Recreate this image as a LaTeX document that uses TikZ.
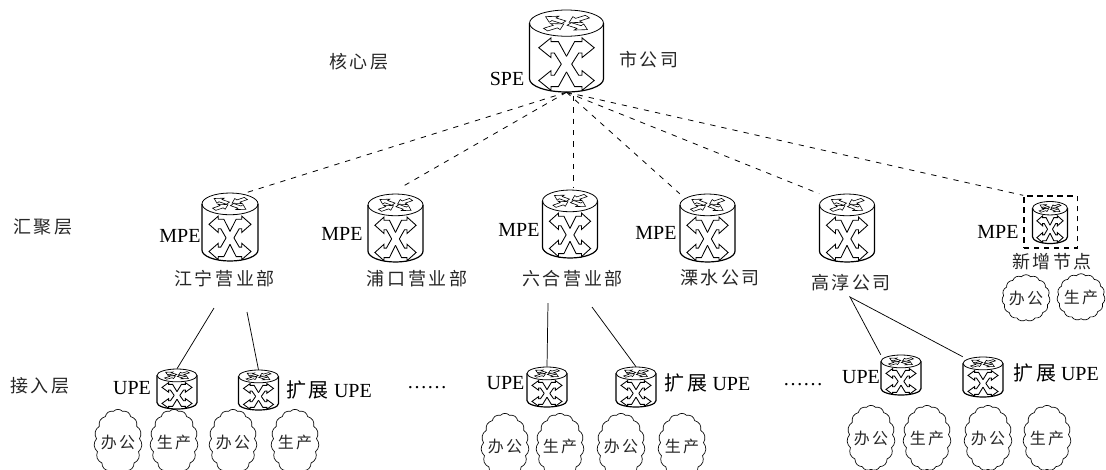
\documentclass[tikz,border=0pt]{standalone}
\usepackage{fontspec}
\setmainfont{Liberation Serif}
\newfontfamily\cjk[LetterSpace=14]{Noto Sans CJK SC}
\usetikzlibrary{shapes.symbols}
\tikzset{
  lbl/.style={inner sep=0pt, font=\fontsize{15pt}{16pt}\selectfont},
  zh/.style={inner sep=0pt, text=black!85, font=\fontsize{13.5pt}{15pt}\selectfont\cjk},
  yun/.style={draw, cloud, cloud puffs=15, cloud puff arc=95, aspect=0.75, inner sep=-5pt,
    minimum width=36pt, minimum height=49pt, line width=.5pt, text=black!85,
    font=\fontsize{12pt}{14pt}\selectfont\cjk},
  link/.style={line width=.55pt},
  dlink/.style={line width=.6pt, dash pattern=on 4pt off 4.5pt}
}
% one quarter of the big cross
\def\xarm#1#2{
\begin{scope}[xscale=#1, yscale=#2]
    \draw[line width=.65pt, line join=miter] (0,.19) -- (.22,.55) -- (.42,.55) -- (.42,.64) -- (.75,.4)
      -- (.42,.16) -- (.42,.27) -- (.33,.27) -- (.14,0);
\end{scope}
}
% small arrows on the lid
\def\lidout#1{
\begin{scope}[rotate=#1]
    \draw[line width=.45pt, fill=white] (.12,-.13) -- (.55,-.13) -- (.55,-.3) -- (.92,0) -- (.55,.3) -- (.55,.13) -- (.12,.13) -- cycle;
\end{scope}
}
\def\lidin#1{
\begin{scope}[rotate=#1, shift={(1.04,0)}, xscale=-1]
    \draw[line width=.45pt, fill=white] (.12,-.13) -- (.55,-.13) -- (.55,-.3) -- (.92,0) -- (.55,.3) -- (.55,.13) -- (.12,.13) -- cycle;
\end{scope}
}
% name, x, y, half width, half height
\def\router#1#2#3#4#5{
\node[minimum width=#4*1.5pt, minimum height=#5*1.5pt, inner sep=0pt] (#1) at (#2,#3) {};
\begin{scope}[shift={(#2,#3)}, xscale=#4, yscale=-#5]
    \draw[line width=.9pt] (-1,.68) -- (-1,-.68) arc[start angle=180, end angle=360, x radius=1, y radius=.32] -- (1,.68);
    \draw[line width=.6pt] (0,.68) ellipse[x radius=1, y radius=.32];
    \begin{scope}[shift={(0,.68)}, xscale=.75, yscale=.3]
        \lidout{35};
        \lidin{145};
        \lidout{215};
        \lidin{325};
    \end{scope}
    \begin{scope}[shift={(0,-.32)}]
        \xarm{1}{1};
        \xarm{-1}{1};
        \xarm{1}{-1};
        \xarm{-1}{-1};
    \end{scope}
\end{scope}
}
\begin{document}
\begin{tikzpicture}[x=.75pt, y=-.75pt]
    \useasboundingbox (0,0) rectangle (1106,469);
    % routers
    \router{spe}{566.5}{51}{37}{41};
    \router{mpeA}{230}{227}{28}{34};
    \router{mpeB}{395.5}{228}{27.5}{34};
    \router{mpeC}{570}{224}{27.5}{34};
    \router{mpeD}{707.5}{228}{27.5}{34};
    \router{mpeE}{847}{228}{27.5}{34};
    \router{mpeF}{1050}{222.5}{17.5}{21};
    \router{upeA}{177}{389}{20}{20};
    \router{upeB}{258.5}{390}{20}{20};
    \router{upeC}{547}{387}{20}{20};
    \router{upeD}{636}{387}{20}{20};
    \router{upeE}{901}{375}{20}{20};
    \router{upeF}{983}{377}{20}{20};
    % dashed frame of the new node
    \node[draw, line width=1pt, dash pattern=on 4pt off 3.5pt, minimum width=40pt, minimum height=39pt, inner sep=0pt] (frameF) at (1050.5,222) {};
    % levels
    \node[zh] (lvlCore) at (359,62) {核心层};
    \node[zh] (lvlAgg) at (43,227) {汇聚层};
    \node[zh] (lvlAcc) at (40,386) {接入层};
    % device labels
    \node[lbl] (lblS) at (507,79) {SPE};
    \node[lbl] (lblA) at (180,236) {MPE};
    \node[lbl] (lblB) at (342,234) {MPE};
    \node[lbl] (lblC) at (519,230) {MPE};
    \node[lbl] (lblD) at (656,233) {MPE};
    \node[lbl] (lblF) at (998,232) {MPE};
    \node[lbl] (lblUa) at (132,388) {UPE};
    \node[lbl] (lblUc) at (505.5,383) {UPE};
    \node[lbl] (lblUe) at (861,377) {UPE};
    \node[lbl] (lblUb) at (329,390) {{\cjk 扩展} UPE};
    \node[lbl] (lblUd) at (707.5,383) {{\cjk 扩展} UPE};
    \node[lbl] (lblUf) at (1056,373) {{\cjk 扩展} UPE};
    \node[lbl] (gapA) at (427,388) {……};
    \node[lbl] (gapB) at (803,385) {……};
    % site names
    \node[zh] (siteS) at (649,60) {市公司};
    \node[zh] (siteA) at (224.5,279) {江宁营业部};
    \node[zh] (siteB) at (417,279) {浦口营业部};
    \node[zh] (siteC) at (572.5,279) {六合营业部};
    \node[zh] (siteD) at (720,278) {溧水公司};
    \node[zh] (siteE) at (851,283) {高淳公司};
    \node[zh] (siteF) at (1052,262) {新增节点};
    % clouds
    \foreach \nm/\xx/\yy/\tx in {a/118/442/办公, b/174/442/生产, c/233/442/办公, d/295/442/生产,
      e/505/446/办公, f/560/446/生产, g/621/446/办公, h/682/446/生产,
      i/871/438/办公, j/927/438/生产, k/988/438/办公, l/1047/438/生产} {
        \node[yun] (cl\nm) at (\xx,\yy) {\tx};
    }
    \node[yun, minimum height=35pt, aspect=1] (clm) at (1026,298) {办公};
    \node[yun, minimum height=35pt, aspect=1] (cln) at (1081,297) {生产};
    % links
    \coordinate (hubC) at (573,96);
    \coordinate (topB) at (400,188);
    \coordinate (topC) at (573,187);
    \draw[dlink] (spe.south) -- (mpeA.65);
    \draw[dlink] (spe.south) -- (topB);
    \draw[dlink] (hubC) -- (topC);
    \draw[dlink] (spe.south) -- (mpeD.north west);
    \draw[dlink] (spe.south) -- (mpeE.north west);
    \draw[dlink] (spe.south) -- (frameF.north west);
    \coordinate (fromA) at (214,308);
    \coordinate (fromB) at (247,312);
    \coordinate (fromC) at (548,303);
    \coordinate (fromD) at (592,307);
    \coordinate (fromE) at (850,297);
    \draw[link] (fromA) -- (upeA.north);
    \draw[link] (fromB) -- (upeB.north);
    \draw[link] (fromC) -- (upeC.north);
    \draw[link] (fromD) -- (upeD.north);
    \draw[link] (upeE.north west) -- (fromE) -- (upeF.north west);
\end{tikzpicture}
\end{document}
